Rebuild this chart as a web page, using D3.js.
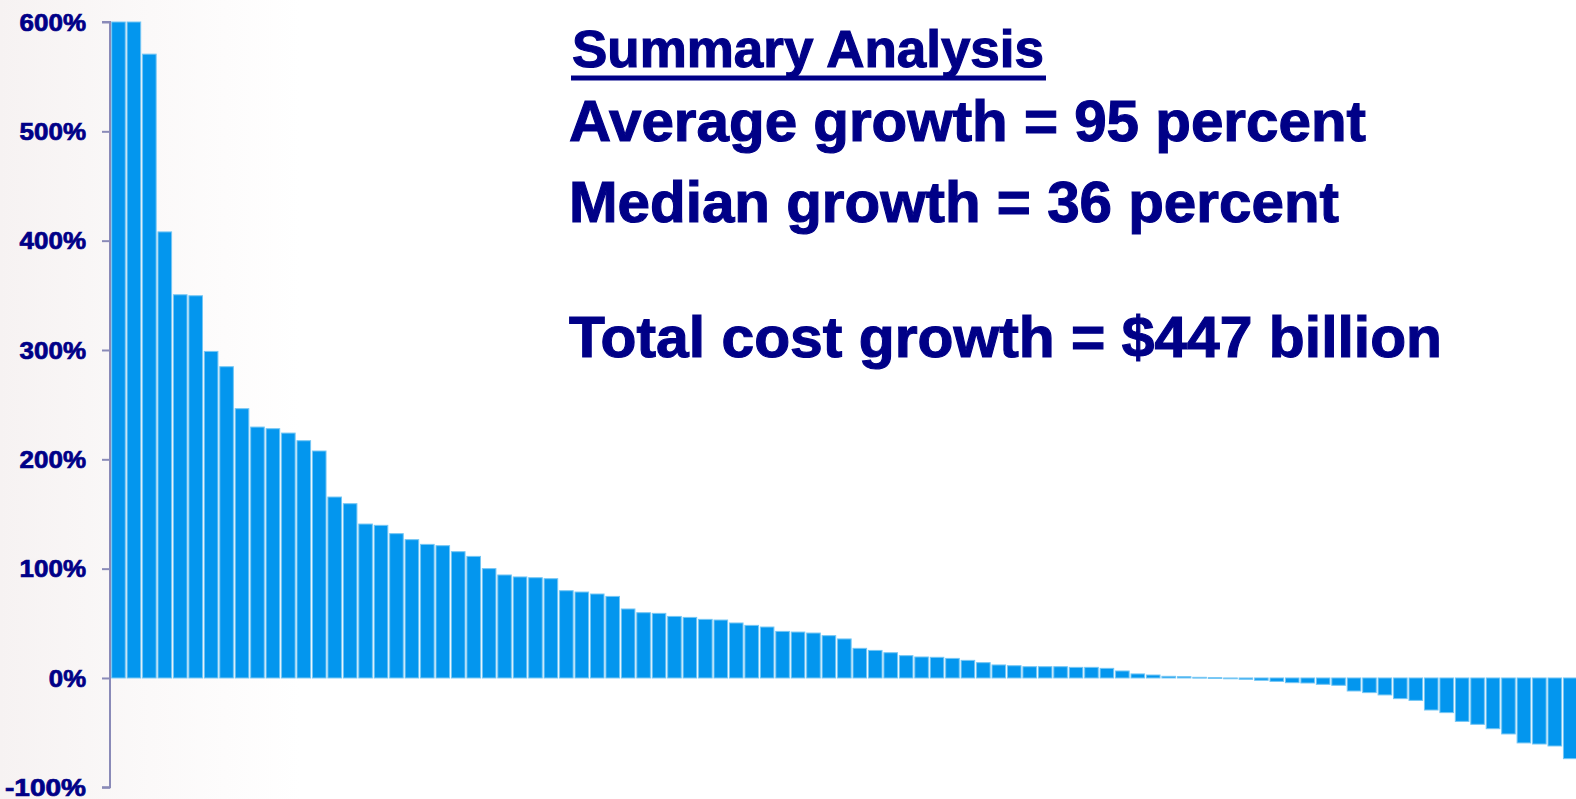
<!DOCTYPE html>
<html>
<head>
<meta charset="utf-8">
<script src="https://cdn.jsdelivr.net/npm/d3@7"></script>
<style>
  html, body { margin: 0; padding: 0; background: #ffffff; }
  svg { display: block; }
</style>
</head>
<body>
<svg id="chart" width="1576" height="799"></svg>
<script>
// ---- Data (program cost growth, sorted descending, in percent) ----
// First two bars run off the top of the 600% axis in the original (clipped).
const programs = d3.range(1, 96).map(i => "P" + i);
const growth = [
  1650, 1230, 570.6, 408, 350.5, 349.6, 298.7, 284.7, 246.3, 229.5,
  228, 224, 217, 207.6, 165.5, 159.4, 140.8, 139.6, 132, 126.5,
  122.2, 121, 115.5, 111.2, 100, 94.2, 92.4, 91.7, 90.8, 79.8,
  78.6, 76.8, 74.6, 63.1, 59.7, 59.1, 56.3, 55.4, 53.6, 53,
  50.3, 48.1, 46.6, 42.6, 42, 41.1, 38.7, 35.7, 27.1, 25.2,
  23.1, 20.4, 19.2, 18.9, 17.9, 16.1, 14, 11.9, 11.2, 10.3,
  10.3, 10.3, 9.7, 9.7, 8.8, 6.4, 3.7, 2.7, 1.5, 1.2,
  0.6, 0.3, -0.3, -1.2, -2.1, -3.1, -4.3, -4.6, -5.8, -6.7,
  -11.9, -13.4, -15.5, -18.9, -20.5, -29.3, -31.7, -39.7, -42.4, -46.4,
  -51.2, -59.4, -60.4, -62.2, -73.8
];
const yTicks = [-100, 0, 100, 200, 300, 400, 500, 600];
const yDomain = [-100, 600];

const summaryTitle = "Summary Analysis";
const summaryLines = [
  "Average growth = 95 percent",
  "Median growth = 36 percent",
  "Total cost growth = $447 billion"
];

// ---- Chart ----
const svg = d3.select("#chart");
const navy = "#000087";

// faint background wash on the left
const defs = svg.append("defs");
const grad = defs.append("linearGradient").attr("id", "bgwash")
  .attr("x1", "0").attr("x2", "1").attr("y1", "0").attr("y2", "0");
grad.append("stop").attr("offset", "0").attr("stop-color", "#f6f2f2");
grad.append("stop").attr("offset", "0.5").attr("stop-color", "#fbf9f9");
grad.append("stop").attr("offset", "1").attr("stop-color", "#ffffff");
svg.append("rect").attr("x", 0).attr("y", 0).attr("width", 300).attr("height", 799)
  .attr("fill", "url(#bgwash)");

const x = d3.scaleBand()
  .domain(programs)
  .range([111.2, 1577.5])
  .paddingInner(0.12)
  .paddingOuter(0.03);

const y = d3.scaleLinear()
  .domain(yDomain)
  .range([787.3, 22])
  .clamp(true);

// bars
svg.append("g")
  .selectAll("rect")
  .data(growth)
  .join("rect")
  .attr("x", (d, i) => x(programs[i]))
  .attr("width", x.bandwidth())
  .attr("y", d => Math.min(y(d), y(0)))
  .attr("height", d => Math.max(Math.abs(y(d) - y(0)), 0.8))
  .attr("fill", "#0396ee")
  .attr("stroke", "#74c6f4")
  .attr("stroke-width", 1);

// y axis
const axis = d3.axisLeft(y)
  .tickValues(yTicks)
  .tickSize(8)
  .tickPadding(16)
  .tickFormat(d => d + "%");

const gAxis = svg.append("g")
  .attr("transform", "translate(110,0)")
  .call(axis);

gAxis.select(".domain")
  .attr("stroke", "#8a8ab8")
  .attr("stroke-width", 2)
  .attr("d", `M-8,${y(600)}H0V${y(-100)}H-8`);
gAxis.selectAll(".tick line").attr("stroke", "#8a8ab8").attr("stroke-width", 2);
gAxis.selectAll(".tick text")
  .attr("fill", navy)
  .attr("stroke", navy)
  .attr("stroke-width", 0.7)
  .attr("font-family", "'Liberation Sans', Arial, sans-serif")
  .attr("font-weight", "bold")
  .attr("font-size", 23)
  .attr("dy", "0.36em")
  .each(function(d) {
    const s = String(d) + "%";
    const w = s.length * 14.6 + 8;
    d3.select(this).attr("textLength", w).attr("lengthAdjust", "spacingAndGlyphs");
  });

// summary text
const tg = svg.append("g")
  .attr("font-family", "'Liberation Sans', Arial, sans-serif")
  .attr("font-weight", "bold")
  .attr("fill", navy)
  .attr("stroke", navy)
  .attr("stroke-width", 1.1);

tg.append("text")
  .attr("x", 572).attr("y", 67)
  .attr("font-size", 51)
  .attr("textLength", 472).attr("lengthAdjust", "spacingAndGlyphs")
  .text(summaryTitle);
tg.append("rect")
  .attr("x", 571).attr("y", 75.5).attr("width", 475).attr("height", 5)
  .attr("stroke", "none");

const lineY = [141, 222, 357];
const lineW = [797, 770, 873];
tg.selectAll("text.line")
  .data(summaryLines)
  .join("text")
  .attr("class", "line")
  .attr("x", 569)
  .attr("y", (d, i) => lineY[i])
  .attr("font-size", 57)
  .attr("textLength", (d, i) => lineW[i])
  .attr("lengthAdjust", "spacingAndGlyphs")
  .text(d => d);
</script>
</body>
</html>
